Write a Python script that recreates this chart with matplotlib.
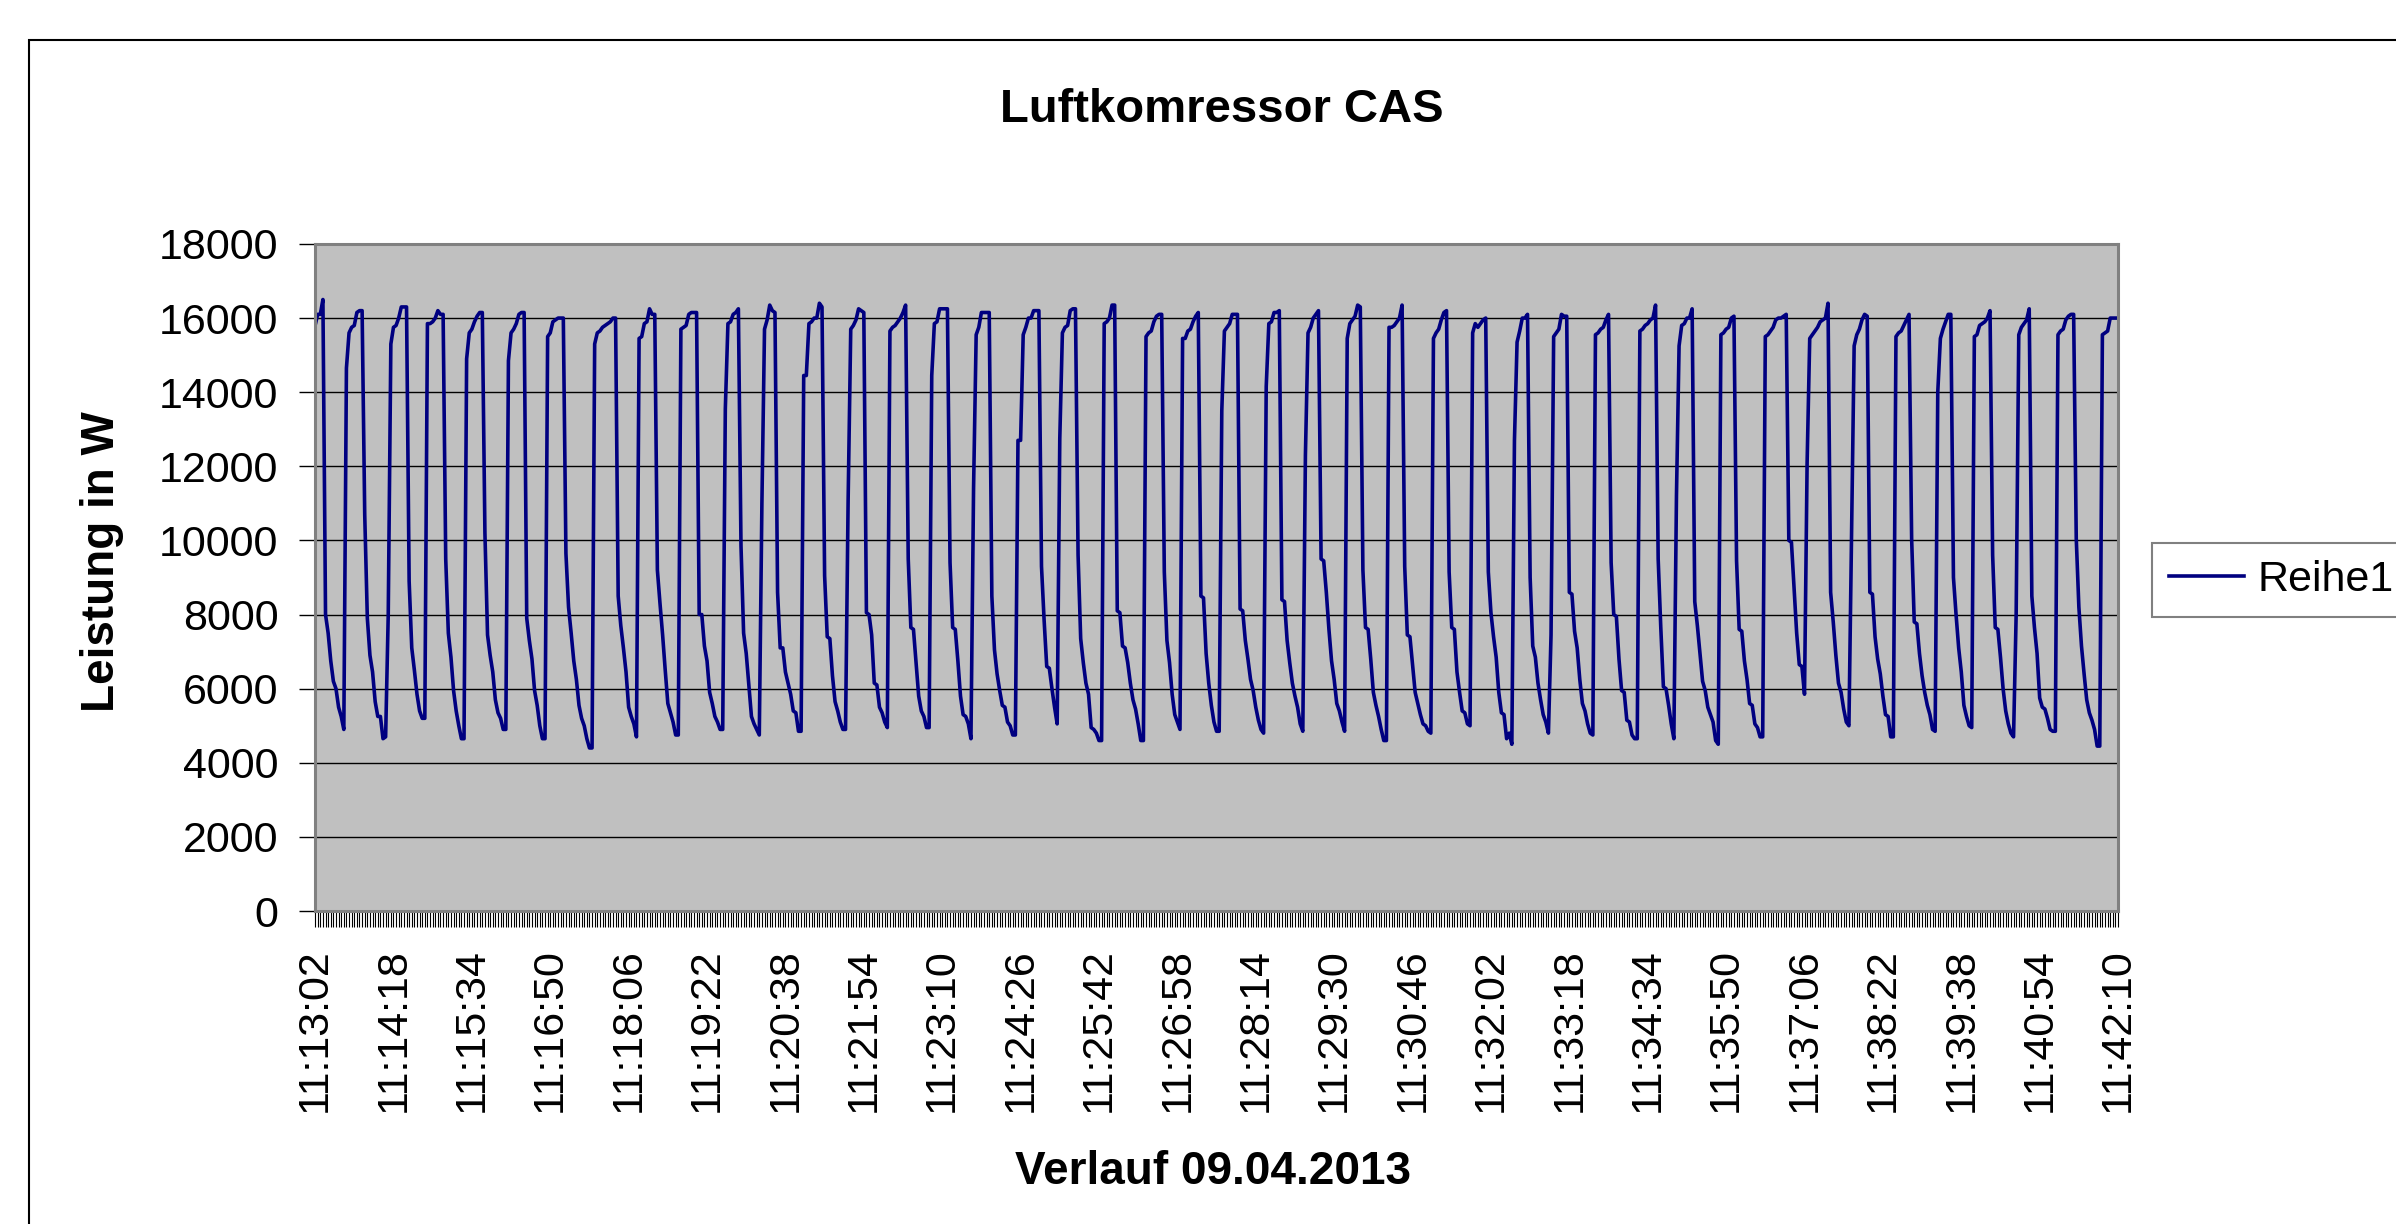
import numpy as np
import matplotlib.pyplot as plt
from matplotlib.patches import Rectangle

plt.rcParams['font.family'] = ['Liberation Sans', 'DejaVu Sans']

titel = 'Luftkomressor CAS'
x_titel = 'Verlauf 09.04.2013'
y_titel = 'Leistung in W'
reihe = 'Reihe1'

# Beschriftung jeder 30. Messung
zeitmarken = ['11:13:02', '11:14:18', '11:15:34', '11:16:50', '11:18:06', '11:19:22',
              '11:20:38', '11:21:54', '11:23:10', '11:24:26', '11:25:42', '11:26:58',
              '11:28:14', '11:29:30', '11:30:46', '11:32:02', '11:33:18', '11:34:34',
              '11:35:50', '11:37:06', '11:38:22', '11:39:38', '11:40:54', '11:42:10']
label_abstand = 30

# Leistung in W (ein Zyklus pro Zeile)
leistung = [
    15800, 16100, 16100, 16500,
    8000, 7500, 6750, 6200, 6000, 5500, 5250, 4900, 14650, 15600, 15750, 15800, 16150, 16200, 16200,
    10700, 7900, 6900, 6450, 5650, 5250, 5250, 4650, 4700, 8000, 15300, 15750, 15800, 16000, 16300, 16300, 16300,
    8900, 7100, 6500, 5850, 5400, 5200, 5200, 15850, 15850, 15900, 16000, 16200, 16100, 16100,
    9500, 7500, 6850, 5950, 5400, 5000, 4650, 4650, 14900, 15600, 15700, 15900, 16050, 16150, 16150,
    10200, 7450, 6900, 6450, 5700, 5350, 5200, 4900, 4900, 14850, 15600, 15700, 15850, 16100, 16150, 16150,
    7900, 7300, 6800, 5950, 5550, 5000, 4650, 4650, 15500, 15600, 15900, 15950, 16000, 16000, 16000,
    9650, 8200, 7500, 6750, 6250, 5550, 5200, 5000, 4650, 4400, 4400, 15300, 15600, 15650, 15750, 15800, 15850, 15900, 16000, 16000,
    8500, 7700, 7100, 6450, 5500, 5250, 5050, 4700, 15450, 15500, 15850, 15900, 16250, 16100, 16100,
    9200, 8300, 7450, 6500, 5600, 5350, 5100, 4750, 4750, 15700, 15750, 15800, 16100, 16150, 16150, 16150,
    8000, 8000, 7150, 6750, 5900, 5600, 5250, 5100, 4900, 4900, 13550, 15850, 15900, 16100, 16150, 16250,
    9850, 7500, 6950, 6100, 5250, 5050, 4900, 4750, 11000, 15700, 15950, 16350, 16200, 16150,
    8600, 7100, 7100, 6450, 6150, 5850, 5400, 5350, 4850, 4850, 14450, 14450, 15850, 15900, 16000, 16000, 16400, 16300,
    9050, 7400, 7350, 6350, 5650, 5400, 5100, 4900, 4900, 11100, 15700, 15800, 15950, 16250, 16200, 16150,
    8050, 8000, 7450, 6150, 6100, 5500, 5350, 5100, 4950, 15650, 15750, 15800, 15900, 16000, 16150, 16350,
    9500, 7650, 7600, 6700, 5800, 5400, 5250, 4950, 4950, 14450, 15850, 15900, 16250, 16250, 16250, 16250,
    9400, 7650, 7600, 6750, 5800, 5300, 5250, 5050, 4650, 11400, 15550, 15750, 16150, 16150, 16150, 16150,
    8500, 7050, 6400, 5950, 5550, 5500, 5100, 5000, 4750, 4750, 12700, 12700, 15550, 15750, 16000, 16000, 16200, 16200, 16200,
    9300, 7850, 6600, 6550, 6000, 5500, 5050, 12750, 15600, 15750, 15800, 16200, 16250, 16250,
    9600, 7350, 6700, 6150, 5850, 4950, 4900, 4800, 4600, 4600, 15850, 15900, 16000, 16350, 16350,
    8100, 8050, 7150, 7100, 6700, 6150, 5700, 5450, 5050, 4600, 4600, 15500, 15600, 15650, 15900, 16050, 16100, 16100,
    9150, 7300, 6700, 5850, 5300, 5100, 4900, 15450, 15450, 15650, 15700, 15900, 16050, 16150,
    8500, 8450, 6950, 6150, 5550, 5100, 4850, 4850, 13500, 15650, 15750, 15850, 16100, 16100, 16100,
    8150, 8100, 7300, 6800, 6250, 5950, 5500, 5150, 4900, 4800, 14150, 15850, 15900, 16150, 16150, 16200,
    8400, 8350, 7300, 6700, 6150, 5800, 5500, 5050, 4850, 12300, 15600, 15750, 16000, 16100, 16200,
    9500, 9450, 8600, 7600, 6750, 6250, 5600, 5400, 5100, 4850, 15450, 15850, 15950, 16050, 16350, 16300,
    9200, 7650, 7600, 6800, 5900, 5550, 5250, 4900, 4600, 4600, 15750, 15750, 15800, 15900, 16000, 16350,
    9300, 7450, 7400, 6650, 5900, 5600, 5300, 5050, 5000, 4850, 4800, 15450, 15600, 15700, 15950, 16150, 16200,
    9150, 7650, 7600, 6450, 5900, 5400, 5350, 5050, 5000, 15600, 15850, 15750, 15850, 15950, 16000,
    9150, 8050, 7400, 6850, 5900, 5350, 5300, 4650, 4800, 4500, 12700, 15350, 15650, 16000, 16000, 16100,
    9000, 7150, 6850, 6150, 5700, 5300, 5100, 4800, 7450, 15500, 15600, 15700, 16100, 16050, 16050,
    8600, 8550, 7550, 7100, 6250, 5600, 5400, 5050, 4800, 4750, 15550, 15600, 15700, 15750, 15950, 16100,
    9400, 8000, 7950, 6800, 5950, 5900, 5150, 5100, 4750, 4650, 4650, 15650, 15700, 15800, 15850, 15950, 16000, 16350,
    9500, 7650, 6050, 6000, 5550, 5050, 4650, 11200, 15250, 15800, 15850, 16000, 16000, 16250,
    8350, 7700, 6950, 6200, 5950, 5500, 5300, 5100, 4600, 4500, 15550, 15600, 15700, 15750, 16000, 16050,
    9450, 7600, 7550, 6750, 6250, 5600, 5550, 5050, 4950, 4700, 4700, 15500, 15550, 15650, 15750, 15950, 16000, 16000, 16050, 16100,
    10000, 9950, 8700, 7500, 6650, 6600, 5850, 12100, 15450, 15550, 15650, 15750, 15900, 15950, 16000, 16400,
    8600, 7800, 6900, 6150, 5900, 5450, 5100, 5000, 10100, 15250, 15550, 15700, 15950, 16100, 16050,
    8600, 8550, 7400, 6800, 6400, 5800, 5300, 5250, 4700, 4700, 15500, 15600, 15650, 15800, 15950, 16100,
    10050, 7800, 7750, 6950, 6350, 5900, 5550, 5300, 4900, 4850, 14000, 15450, 15700, 15900, 16100, 16100,
    9000, 8000, 7100, 6450, 5550, 5250, 5000, 4950, 15500, 15550, 15800, 15850, 15900, 16000, 16200,
    9600, 7650, 7600, 6850, 6000, 5400, 5050, 4800, 4700, 8000, 15550, 15750, 15850, 15950, 16250,
    8500, 7650, 6950, 5750, 5500, 5450, 5200, 4900, 4850, 4850, 15550, 15650, 15700, 15950, 16050, 16100, 16100,
    10050, 8200, 7150, 6400, 5700, 5350, 5150, 4900, 4450, 4450, 15550, 15600, 15650, 16000, 16000, 16000, 16000,
]

n = len(leistung)
x = np.arange(n)

fig = plt.figure(figsize=(23.96, 12.24), dpi=100)
ax = fig.add_axes([0.1315, 0.2557, 0.7525, 0.545])
ax.set_facecolor('#C0C0C0')

ax.plot(x, leistung, color='#000080', linewidth=2.6, label=reihe)

ax.set_ylim(0, 18000)
ax.set_yticks(np.arange(0, 18001, 2000))
ax.set_xlim(0, n - 1)
ax.set_xticks(np.arange(0, label_abstand * len(zeitmarken), label_abstand))
ax.set_xticklabels(zeitmarken, rotation=90)
ax.set_xticks(x, minor=True)

ax.yaxis.grid(True, color='black', linewidth=1.0)
ax.set_axisbelow(True)

ax.tick_params(axis='x', which='both', direction='out', length=11.5, width=0.8,
               color='black', pad=15, labelsize=31)
ax.tick_params(axis='y', which='major', direction='out', length=11.5, width=1.0,
               color='black', pad=15, labelsize=31)
for sp in ax.spines.values():
    sp.set_color('#808080')
    sp.set_linewidth(2.2)

# Titel und Achsentitel
fig.text(0.51, 0.91, titel, ha='center', va='center', fontsize=34, fontweight='bold')
fig.text(0.0427, 0.541, y_titel, ha='center', va='center', rotation=90,
         fontsize=33, fontweight='bold')
fig.text(0.5064, 0.0425, x_titel, ha='center', va='center', fontsize=33, fontweight='bold')

# Legende
leg = fig.legend(loc='center left', bbox_to_anchor=(2152 / 2396, 1 - 580 / 1224),
                 fontsize=31, frameon=True, fancybox=False, edgecolor='#808080',
                 handlelength=1.74, handletextpad=0.3, borderpad=0.4, borderaxespad=0)
leg.get_frame().set_linewidth(1.5)
leg.get_frame().set_alpha(None)
leg.get_frame().set_facecolor('white')

# Rahmen des Diagrammbereichs
rahmen = Rectangle((29 / 2396, -0.1), 1.2, 1.1 - 40 / 1224, transform=fig.transFigure,
                   fill=False, edgecolor='black', linewidth=1.5)
fig.add_artist(rahmen)

fig.savefig('out.png', dpi=100)
